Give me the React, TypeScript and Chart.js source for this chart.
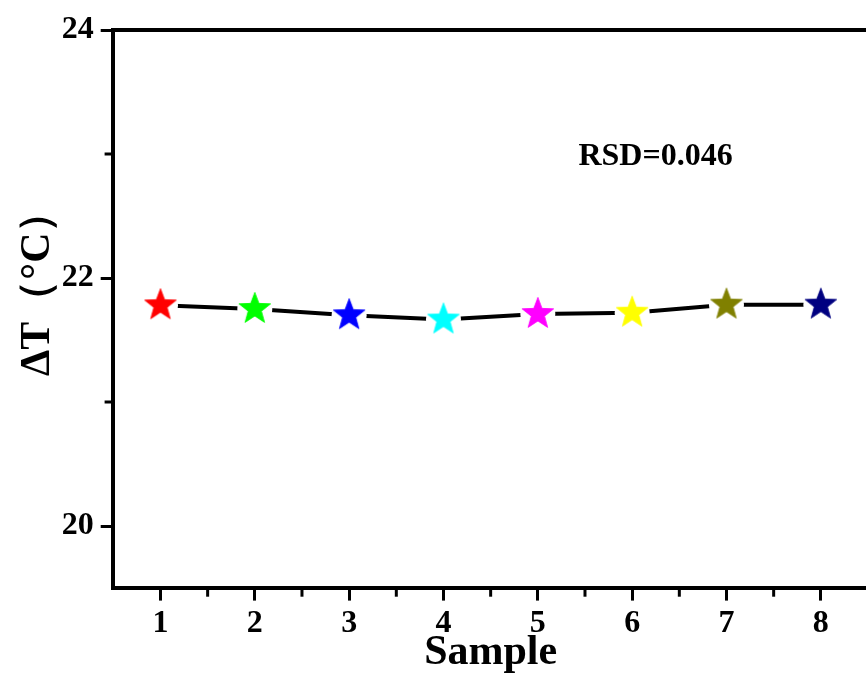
import React, { useEffect, useRef } from "react";
import { Chart, registerables } from "chart.js";

Chart.register(...registerables);

// ---- data ----
const samples = [1, 2, 3, 4, 5, 6, 7, 8];
const deltaT = [21.78, 21.75, 21.7, 21.665, 21.71, 21.72, 21.785, 21.785];
const starColors = ["#FF0000", "#00FF00", "#0000FF", "#00FFFF", "#FF00FF", "#FFFF00", "#808000", "#000080"];
const xTickValues = [1, 2, 3, 4, 5, 6, 7, 8];
const xMinorTicks = [1.5, 2.5, 3.5, 4.5, 5.5, 6.5, 7.5];
const yTickValues = [20, 22, 24];
const yMinorTicks = [21, 23];
const xRange = [0.5, 8.5];
const yRange = [19.5, 24];
const xTitle = "Sample";
const yTitle = "ΔT（°C）";
const annotationText = "RSD=0.046";
const annotationAt = [5.43, 22.91];

const FONT = '"Liberation Serif", "Times New Roman", serif';

function makeStar(color: string, R: number): HTMLCanvasElement {
  const size = Math.ceil(R * 2) + 4;
  const c = document.createElement("canvas");
  c.width = size;
  c.height = size;
  const ctx = c.getContext("2d")!;
  const cx = size / 2;
  const cy = size / 2;
  const r = R * 0.42;
  ctx.beginPath();
  for (let i = 0; i < 10; i++) {
    const ang = -Math.PI / 2 + (i * Math.PI) / 5;
    const rad = i % 2 === 0 ? R : r;
    const px = cx + rad * Math.cos(ang);
    const py = cy + rad * Math.sin(ang);
    if (i === 0) ctx.moveTo(px, py);
    else ctx.lineTo(px, py);
  }
  ctx.closePath();
  ctx.fillStyle = color;
  ctx.fill();
  ctx.lineWidth = 0.8;
  ctx.strokeStyle = color;
  ctx.stroke();
  return c;
}

const framePlugin = {
  id: "frame",
  afterDraw(chart: any) {
    const { ctx, chartArea, scales } = chart;
    const x = scales.x;
    const y = scales.y;
    ctx.save();
    ctx.strokeStyle = "#000";
    ctx.lineCap = "butt";
    // top & right border
    ctx.lineWidth = 4;
    ctx.beginPath();
    ctx.moveTo(chartArea.left, chartArea.top);
    ctx.lineTo(chartArea.right, chartArea.top);
    ctx.lineTo(chartArea.right, chartArea.bottom);
    ctx.stroke();
    // minor ticks
    ctx.lineWidth = 3;
    xMinorTicks.forEach((v) => {
      const px = x.getPixelForValue(v);
      ctx.beginPath();
      ctx.moveTo(px, chartArea.bottom);
      ctx.lineTo(px, chartArea.bottom + 8.7);
      ctx.stroke();
    });
    yMinorTicks.forEach((v) => {
      const py = y.getPixelForValue(v);
      ctx.beginPath();
      ctx.moveTo(chartArea.left, py);
      ctx.lineTo(chartArea.left - 8.7, py);
      ctx.stroke();
    });
    // annotation
    ctx.fillStyle = "#000";
    ctx.font = `bold 32px ${FONT}`;
    ctx.textAlign = "left";
    ctx.textBaseline = "alphabetic";
    ctx.fillText(annotationText, x.getPixelForValue(annotationAt[0]), y.getPixelForValue(annotationAt[1]));
    // y title
    ctx.save();
    ctx.translate(49, 376);
    ctx.rotate(-Math.PI / 2);
    ctx.font = `bold 42px ${FONT}`;
    ctx.textAlign = "left";
    ctx.textBaseline = "alphabetic";
    ctx.fillText(yTitle, 0, 0);
    ctx.restore();
    ctx.restore();
  },
};

export default function App() {
  const ref = useRef<HTMLCanvasElement>(null);
  useEffect(() => {
    document.documentElement.style.overflow = "hidden";
    document.body.style.overflow = "hidden";
    document.body.style.margin = "0";
    const stars = starColors.map((c) => makeStar(c, 16.6));
    const points = samples.map((s, i) => ({ x: s, y: deltaT[i] }));
    const chart = new Chart(ref.current!, {
      type: "line",
      data: {
        datasets: [
          {
            label: "stars",
            data: points,
            showLine: false,
            pointStyle: stars as any,
            pointRadius: 17,
            order: 0,
          },
          {
            label: "line",
            data: points,
            borderColor: "#000",
            borderWidth: 4,
            pointStyle: "circle",
            pointRadius: 17.5,
            pointBackgroundColor: "#fff",
            pointBorderWidth: 0,
            pointBorderColor: "#fff",
            tension: 0,
            order: 1,
          },
        ],
      },
      options: {
        responsive: false,
        animation: false,
        devicePixelRatio: 1,
        layout: { autoPadding: false, padding: { top: 30, right: 2, left: 0, bottom: 0 } },
        plugins: { legend: { display: false }, tooltip: { enabled: false } },
        events: [],
        scales: {
          x: {
            type: "linear",
            min: xRange[0],
            max: xRange[1],
            afterBuildTicks: (s: any) => {
              s.ticks = xTickValues.map((v) => ({ value: v }));
            },
            afterFit: (s: any) => {
              s.height = 92;
            },
            grid: { drawOnChartArea: false, drawTicks: true, tickLength: 12.6, tickWidth: 3, tickColor: "#000" },
            border: { display: true, width: 4, color: "#000" },
            ticks: {
              color: "#000",
              padding: 4,
              font: { family: FONT, size: 32, weight: "bold" },
              maxRotation: 0,
              autoSkip: false,
              callback: (v: any) => String(v),
            },
            title: {
              display: true,
              text: xTitle,
              color: "#000",
              font: { family: FONT, size: 42, weight: "bold" },
              padding: { top: 0, bottom: 2 },
            },
          },
          y: {
            type: "linear",
            min: yRange[0],
            max: yRange[1],
            afterBuildTicks: (s: any) => {
              s.ticks = yTickValues.map((v) => ({ value: v }));
            },
            afterFit: (s: any) => {
              s.width = 113.3;
            },
            grid: { drawOnChartArea: false, drawTicks: true, tickLength: 12.6, tickWidth: 3, tickColor: "#000" },
            border: { display: true, width: 4, color: "#000" },
            ticks: {
              color: "#000",
              padding: 7,
              font: { family: FONT, size: 32, weight: "bold" },
              autoSkip: false,
              callback: (v: any) => String(v),
            },
            title: { display: false },
          },
        },
      },
      plugins: [framePlugin],
    });
    return () => chart.destroy();
  }, []);
  return (
    <div style={{ position: "absolute", left: 0, top: 0, width: 870, height: 680 }}>
      <canvas ref={ref} width={870} height={680} />
    </div>
  );
}
